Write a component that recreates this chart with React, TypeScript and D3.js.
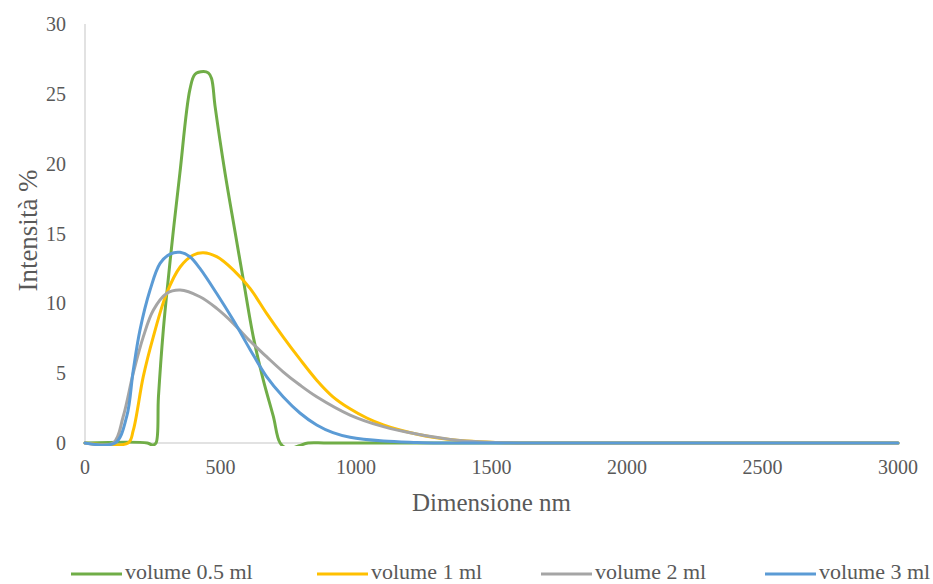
import * as d3 from "d3";

// sizes (nm) and intensity (%), one pair of arrays per series
const sizes05 = [0, 230, 250, 262, 271, 289, 307, 326, 350, 387, 406, 437, 455, 467, 480, 517, 553, 584, 621, 658, 695, 720, 750, 790, 823, 900, 3000];
const vals05 = [0, 0, -0.15, 0, 3.3, 8.1, 11.7, 15.2, 19.3, 25.3, 26.4, 26.6, 26.5, 26.1, 24.1, 19.3, 15.2, 11.7, 7.6, 4.5, 1.9, 0, -0.4, -0.2, 0, 0, 0];

const sizes1 = [0, 159, 178, 215, 252, 301, 351, 400, 437, 486, 547, 609, 670, 731, 793, 855, 915, 978, 1040, 1101, 1162, 1284, 1409, 1531, 1600, 1700, 3000];
const vals1 = [0, 0, 0.9, 4.75, 7.6, 10.7, 12.6, 13.46, 13.62, 13.34, 12.4, 11.07, 9.28, 7.6, 6.0, 4.5, 3.31, 2.45, 1.79, 1.3, 0.93, 0.41, 0.14, 0.03, 0, 0, 0];

const sizes2 = [0, 104, 141, 178, 215, 252, 301, 351, 424, 486, 547, 609, 670, 731, 793, 855, 978, 1101, 1224, 1347, 1470, 1600, 1700, 3000];
const vals2 = [0, 0, 1.9, 5.0, 7.6, 9.5, 10.7, 10.95, 10.47, 9.64, 8.57, 7.3, 6.18, 5.1, 4.15, 3.31, 2.0, 1.17, 0.64, 0.26, 0.07, 0, 0, 0];

const sizes3 = [0, 111, 154, 178, 203, 240, 277, 314, 351, 387, 424, 486, 547, 609, 670, 731, 793, 855, 915, 978, 1101, 1224, 1300, 1400, 3000];
const vals3 = [0, 0, 1.9, 5.2, 8.1, 10.95, 12.86, 13.53, 13.65, 13.34, 12.5, 10.7, 8.8, 6.7, 4.75, 3.31, 2.15, 1.29, 0.74, 0.41, 0.14, 0.04, 0, 0, 0];

const seriesNames = ["volume 0.5 ml", "volume 1 ml", "volume 2 ml", "volume 3 ml"];
const seriesColors = ["#70AD47", "#FFC000", "#A5A5A5", "#5B9BD5"];
const xTicks = [0, 500, 1000, 1500, 2000, 2500, 3000];
const yTicks = [0, 5, 10, 15, 20, 25, 30];

const W = 933;
const H = 584;
const FONT = '"Liberation Serif", "Times New Roman", "DejaVu Serif", serif';
const TEXT = "#595959";

export default function App() {
  const margin = { top: 24, right: 35, bottom: 141, left: 85 };
  const x = d3.scaleLinear().domain([0, 3000]).range([margin.left, W - margin.right]);
  const y = d3.scaleLinear().domain([0, 30]).range([H - margin.bottom, margin.top]);

  const series = [
    sizes05.map((s, i) => [s, vals05[i]]),
    sizes1.map((s, i) => [s, vals1[i]]),
    sizes2.map((s, i) => [s, vals2[i]]),
    sizes3.map((s, i) => [s, vals3[i]]),
  ];

  const line = d3
    .line<number[]>()
    .x((d) => x(d[0]))
    .y((d) => y(d[1]))
    .curve(d3.curveCatmullRom.alpha(0.5));

  const x0 = x(0);
  const y0 = y(0);
  const txt = { fontFamily: FONT, fill: TEXT };
  // legend item starts
  const legendX = [71, 317, 541, 765];

  return (
    <svg width={W} height={H} style={{ position: "absolute", left: 0, top: 0, background: "#fff" }}>
      <defs>
        <clipPath id="plot">
          <rect x={x0 - 2} y={0} width={x(3000) - x0 + 6} height={y0 + 3} />
        </clipPath>
      </defs>

      {/* axes lines */}
      <line x1={x0} x2={x0} y1={y(30)} y2={y0} stroke="#D9D9D9" strokeWidth={1.5} />
      <line x1={x0} x2={x(3000)} y1={y0} y2={y0} stroke="#D9D9D9" strokeWidth={1.5} />

      {/* tick labels */}
      {yTicks.map((t) => (
        <text key={"y" + t} x={66} y={y(t)} dy="0.35em" textAnchor="end" fontSize={20} style={txt}>
          {t}
        </text>
      ))}
      {xTicks.map((t) => (
        <text key={"x" + t} x={x(t)} y={474} textAnchor="middle" fontSize={20} style={txt}>
          {t}
        </text>
      ))}

      {/* axis titles */}
      <text x={(x0 + x(3000)) / 2} y={511} textAnchor="middle" fontSize={25} style={txt}>
        Dimensione nm
      </text>
      <text
        transform={`translate(37,${(y(30) + y0) / 2 - 3}) rotate(-90)`}
        textAnchor="middle"
        fontSize={27}
        style={txt}
      >
        Intensità %
      </text>

      {/* series */}
      <g clipPath="url(#plot)">
        {series.map((s, i) => (
          <path
            key={seriesNames[i]}
            d={line(s) || ""}
            fill="none"
            stroke={seriesColors[i]}
            strokeWidth={3}
            strokeLinejoin="round"
            strokeLinecap="round"
          />
        ))}
      </g>

      {/* legend */}
      {seriesNames.map((n, i) => (
        <g key={"lg" + n} transform={`translate(${legendX[i]},574)`}>
          <line x1={0} x2={51} y1={0} y2={0} stroke={seriesColors[i]} strokeWidth={3} />
          <text x={54} y={5} fontSize={22} style={txt}>
            {n}
          </text>
        </g>
      ))}
    </svg>
  );
}
